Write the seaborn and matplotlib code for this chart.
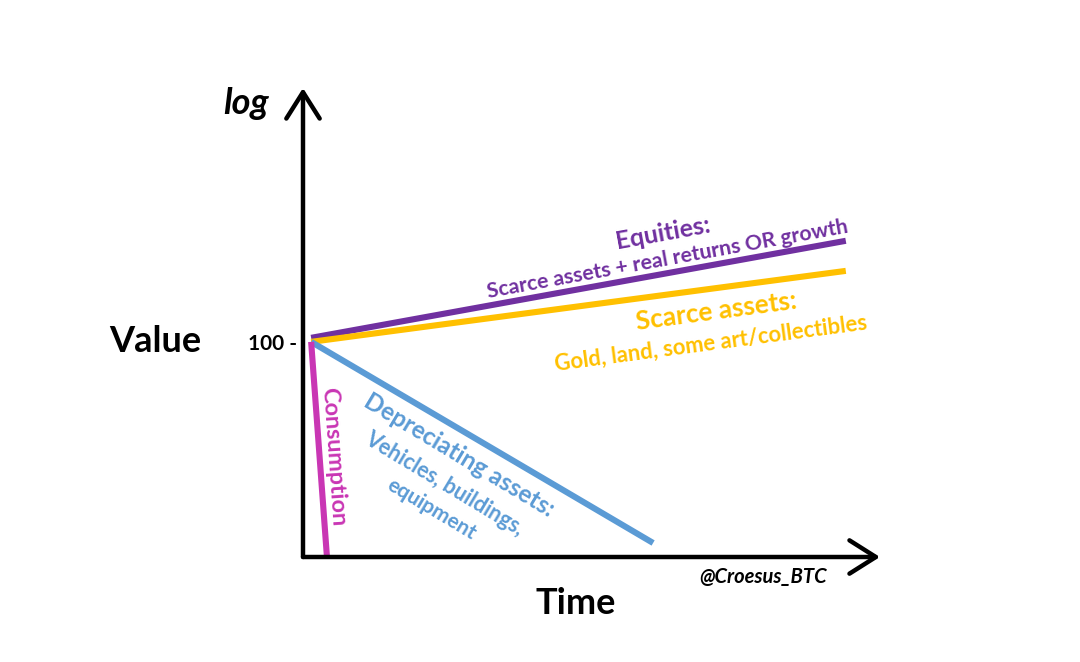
import numpy as np
import pandas as pd
import matplotlib
matplotlib.use("Agg")
import matplotlib.pyplot as plt
from matplotlib.ticker import NullLocator
import seaborn as sns

# series: start and end points (time, value on log scale)
series_names = ["Equities", "Scarce assets", "Depreciating assets", "Consumption"]
series_time = [[0.15, 10.0], [0.15, 10.0], [0.15, 6.45], [0.15, 0.44]]
series_value = [[109, 870], [100, 457], [100, 1.35], [100, 1.02]]
series_colors = ["#7030A0", "#FFC000", "#5B9BD5", "#C936B4"]

rows = []
for name, ts, vs in zip(series_names, series_time, series_value):
    for t, v in zip(ts, vs):
        rows.append({"series": name, "time": t, "value": v})
df = pd.DataFrame(rows)

sns.set_style("white")
plt.rcParams["font.family"] = ["Lato", "DejaVu Sans"]
plt.rcParams["text.color"] = "black"
plt.rcParams["ytick.color"] = "black"

W, H = 1080, 662
fig = plt.figure(figsize=(W / 100, H / 100), dpi=100)
# axes from origin (303,557) to arrow tips
ax = fig.add_axes([303 / W, 1 - 557 / H, (880 - 303) / W, (557 - 88) / H])

sns.lineplot(data=df, x="time", y="value", hue="series", palette=series_colors,
             hue_order=series_names, legend=False, lw=4.4, ax=ax,
             solid_capstyle="butt")

ax.set_yscale("log")
ax.set_xlim(0, 10.63)
ax.set_ylim(1, 10 ** 4.36)
ax.yaxis.set_minor_locator(NullLocator())
ax.set_yticks([100])
ax.set_yticklabels(["100 -"], fontsize=15, fontweight="bold")
ax.set_xticks([])
ax.tick_params(axis="y", left=False, length=0, pad=4)
ax.set_xlabel("")
ax.set_ylabel("")
for s in ax.spines.values():
    s.set_visible(False)

# axis arrows
arrow = dict(arrowstyle="->,head_length=1.9,head_width=1.2", lw=3.2,
             color="black", shrinkA=0, shrinkB=0)
ax.annotate("", xy=(1, 0), xytext=(0, 0), xycoords="axes fraction",
            arrowprops=arrow)
ax.annotate("", xy=(0, 1), xytext=(0, 0), xycoords="axes fraction",
            arrowprops=arrow)


def label(x, y, s, **kw):
    fig.text(x / W, 1 - y / H, s, ha="center", va="center",
             fontweight="bold", rotation_mode="anchor", **kw)


label(155, 342, "Value", fontsize=26)
label(576, 603, "Time", fontsize=26)
label(246, 103, "log", fontsize=26, style="italic")
label(763, 577, "@Croesus_BTC", fontsize=14.5, style="italic")

label(663, 233, "Equities:", fontsize=18, color=series_colors[0], rotation=10.3)
label(668, 259, "Scarce assets + real returns OR growth", fontsize=15.3,
      color=series_colors[0], rotation=10.3)
label(716, 311, "Scarce assets:", fontsize=19, color=series_colors[1], rotation=7.6)
label(711, 343, "Gold, land, some art/collectibles", fontsize=15.8,
      color=series_colors[1], rotation=7.6)
label(459, 455, "Depreciating assets:", fontsize=17.5, color=series_colors[2],
      rotation=-31)
label(444, 484, "Vehicles, buildings,", fontsize=15.5, color=series_colors[2],
      rotation=-31)
label(431, 509, "equipment", fontsize=15, color=series_colors[2], rotation=-31)
label(333, 457, "Consumption", fontsize=16.8, color=series_colors[3], rotation=-86)

fig.savefig("out.png", dpi=100)
